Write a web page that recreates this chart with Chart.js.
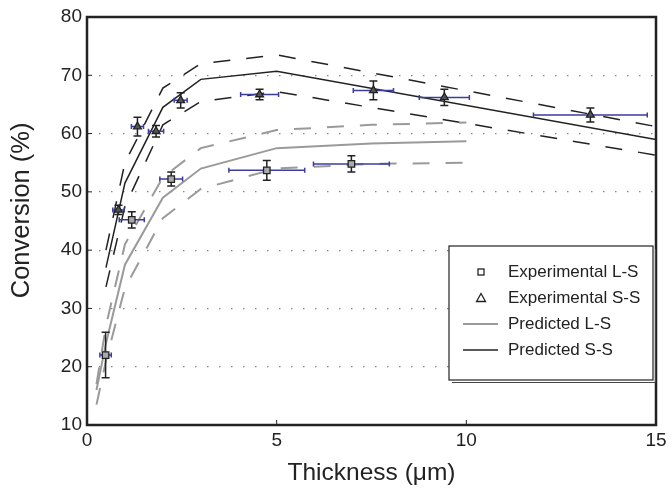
<!DOCTYPE html>
<html>
<head>
<meta charset="utf-8">
<script src="https://cdn.jsdelivr.net/npm/chart.js@4"></script>
<style>
  body{margin:0;background:#fff;}
  #c{display:block;}
</style>
</head>
<body>
<canvas id="c" width="672" height="489"></canvas>
<script>
// ---------- DATA ----------
// experimental points
const lsX    = [0.49, 1.18, 2.22, 4.74, 6.97];
const lsY    = [22.0, 45.2, 52.2, 53.7, 54.8];
const lsXErr = [0.15, 0.33, 0.30, 1.00, 1.00];
const lsYErr = [3.9, 1.4, 1.2, 1.7, 1.4];

const ssX    = [0.83, 1.33, 1.82, 2.47, 4.55, 7.55, 9.42, 13.27];
const ssY    = [46.9, 61.2, 60.4, 65.7, 66.7, 67.4, 66.2, 63.2];
const ssXErr = [0.15, 0.16, 0.20, 0.17, 0.50, 0.53, 0.66, 1.50];
const ssYErr = [0.8, 1.6, 1.0, 1.3, 0.9, 1.6, 1.4, 1.2];

// model curves
const lsModelX     = [0.25, 0.5, 1, 2, 3, 5, 7.5, 10];
const lsModel      = [16.0, 24.0, 37.5, 49.0, 54.0, 57.5, 58.3, 58.7];
const lsModelUpper = [17.0, 27.0, 41.0, 52.5, 57.5, 60.6, 61.5, 61.9];
const lsModelLower = [13.5, 21.0, 33.5, 45.5, 50.5, 54.0, 54.8, 55.0];

const ssModelX     = [0.5, 1, 2, 3, 5, 15];
const ssModel      = [37.0, 51.5, 64.5, 69.3, 70.7, 59.0];
const ssModelUpper = [40.0, 55.0, 67.8, 72.0, 73.5, 61.2];
const ssModelLower = [33.7, 47.5, 61.5, 65.5, 67.2, 56.3];

const xTicks = [0, 5, 10, 15];
const yTicks = [10, 20, 30, 40, 50, 60, 70, 80];

const legendLabels = ['Experimental L-S', 'Experimental S-S', 'Predicted L-S', 'Predicted S-S'];

// ---------- helpers ----------
const pts = (xs, ys) => xs.map((x, i) => ({x: x, y: ys[i]}));
const FONT = "'Liberation Sans', Arial, Helvetica, sans-serif";
const INK = '#222';
const GREY = '#9a9a9a';
const BLUE = '#3c3ca0';

function line(label, xs, ys, color, width, dash){
  return {
    type: 'line', label: label, data: pts(xs, ys),
    borderColor: color, borderWidth: width, borderDash: dash || [],
    pointRadius: 0, fill: false, tension: 0
  };
}

// ---------- PLUGINS ----------
const errorBars = {
  id: 'errorBars',
  beforeDatasetDraw(chart, args){
    const ds = chart.data.datasets[args.index];
    if(!ds.xErr) return;
    const xs = chart.scales.x, ys = chart.scales.y, ctx = chart.ctx;
    ctx.save();
    ds.data.forEach((p, i) => {
      const px = xs.getPixelForValue(p.x), py = ys.getPixelForValue(p.y);
      // horizontal (blue)
      const x1 = xs.getPixelForValue(p.x - ds.xErr[i]), x2 = xs.getPixelForValue(p.x + ds.xErr[i]);
      ctx.strokeStyle = BLUE; ctx.lineWidth = 1.5;
      ctx.beginPath();
      ctx.moveTo(x1, py); ctx.lineTo(x2, py);
      ctx.moveTo(x1, py - 2.5); ctx.lineTo(x1, py + 2.5);
      ctx.moveTo(x2, py - 2.5); ctx.lineTo(x2, py + 2.5);
      ctx.stroke();
      // vertical (black)
      const y1 = ys.getPixelForValue(p.y - ds.yErr[i]), y2 = ys.getPixelForValue(p.y + ds.yErr[i]);
      ctx.strokeStyle = INK; ctx.lineWidth = 1.5;
      ctx.beginPath();
      ctx.moveTo(px, y1); ctx.lineTo(px, y2);
      ctx.moveTo(px - 4, y1); ctx.lineTo(px + 4, y1);
      ctx.moveTo(px - 4, y2); ctx.lineTo(px + 4, y2);
      ctx.stroke();
    });
    ctx.restore();
  }
};

const frame = {
  id: 'frame',
  afterDraw(chart){
    const {ctx, chartArea: a, scales} = chart;
    ctx.save();
    // inward ticks
    ctx.strokeStyle = INK; ctx.lineWidth = 1;
    ctx.beginPath();
    yTicks.forEach(v => {
      const py = scales.y.getPixelForValue(v);
      ctx.moveTo(a.left, py); ctx.lineTo(a.left + 5, py);
    });
    xTicks.forEach(v => {
      const px = scales.x.getPixelForValue(v);
      ctx.moveTo(px, a.bottom); ctx.lineTo(px, a.bottom - 5);
    });
    ctx.stroke();
    ctx.strokeStyle = INK; ctx.lineWidth = 2.5;
    ctx.strokeRect(a.left, a.top, a.right - a.left, a.bottom - a.top);

    // legend box with thin offset shadow
    const lx = 449, ly = 246, lw = 204, lh = 134;
    ctx.strokeStyle = '#444'; ctx.lineWidth = 1;
    ctx.beginPath();
    ctx.moveTo(lx + 3, ly + lh + 2.5); ctx.lineTo(lx + lw + 2.5, ly + lh + 2.5); ctx.lineTo(lx + lw + 2.5, ly + 3);
    ctx.stroke();
    ctx.fillStyle = '#fff';
    ctx.fillRect(lx, ly, lw, lh);
    ctx.strokeStyle = INK; ctx.lineWidth = 1.2;
    ctx.strokeRect(lx, ly, lw, lh);

    ctx.font = '17px ' + FONT;
    ctx.fillStyle = INK;
    ctx.textBaseline = 'middle';
    legendLabels.forEach((t, i) => {
      const ry = 272 + i * 26;
      const mx = 481;
      ctx.lineWidth = 1.3;
      if(i === 0){
        ctx.strokeStyle = INK;
        ctx.strokeRect(mx - 3, ry - 3, 6, 6);
      } else if(i === 1){
        ctx.strokeStyle = INK;
        ctx.beginPath();
        ctx.moveTo(mx, ry - 4.5); ctx.lineTo(mx + 4.5, ry + 3.5); ctx.lineTo(mx - 4.5, ry + 3.5);
        ctx.closePath(); ctx.stroke();
      } else {
        ctx.strokeStyle = i === 2 ? GREY : INK;
        ctx.lineWidth = i === 2 ? 1.8 : 1.5;
        ctx.beginPath(); ctx.moveTo(463, ry); ctx.lineTo(498, ry); ctx.stroke();
      }
      ctx.fillText(t, 508, ry);
    });
    ctx.restore();
  }
};

// ---------- CHART ----------
const chart = new Chart(document.getElementById('c'), {
  data: {
    datasets: [
      {
        type: 'scatter', label: legendLabels[0], data: pts(lsX, lsY),
        xErr: lsXErr, yErr: lsYErr,
        pointStyle: 'rect', pointRadius: 4.6, pointBorderWidth: 1.3,
        borderColor: INK, backgroundColor: '#aaa'
      },
      {
        type: 'scatter', label: legendLabels[1], data: pts(ssX, ssY),
        xErr: ssXErr, yErr: ssYErr,
        pointStyle: 'triangle', pointRadius: 4.5, pointBorderWidth: 1.3,
        borderColor: INK, backgroundColor: '#555'
      },
      line(legendLabels[2], lsModelX, lsModel, GREY, 2),
      line('L-S upper', lsModelX, lsModelUpper, GREY, 2, [17, 16]),
      line('L-S lower', lsModelX, lsModelLower, GREY, 2, [17, 16]),
      line(legendLabels[3], ssModelX, ssModel, INK, 1.5),
      line('S-S upper', ssModelX, ssModelUpper, INK, 1.5, [17, 16]),
      line('S-S lower', ssModelX, ssModelLower, INK, 1.5, [17, 16])
    ]
  },
  options: {
    responsive: false,
    animation: false,
    events: [],
    layout: {padding: {top: 17, right: 16, left: 0, bottom: 0}},
    plugins: {legend: {display: false}, tooltip: {enabled: false}},
    scales: {
      x: {
        type: 'linear', min: 0, max: 15,
        afterFit: s => { s.height = 64; },
        afterBuildTicks: s => { s.ticks = xTicks.map(v => ({value: v})); },
        ticks: {color: INK, padding: 4, font: {family: FONT, size: 19}},
        grid: {display: false, drawTicks: false},
        border: {display: false},
        title: {display: true, text: 'Thickness (μm)', color: INK,
                font: {family: FONT, size: 24.5}, padding: {top: 0, bottom: 1}}
      },
      y: {
        type: 'linear', min: 10, max: 80,
        afterFit: s => { s.width = 87; },
        afterBuildTicks: s => { s.ticks = yTicks.map(v => ({value: v})); },
        ticks: {color: INK, padding: 5, font: {family: FONT, size: 19}},
        grid: {
          drawTicks: false,
          lineWidth: 1.2,
          color: c => (c.tick && (c.tick.value === 10 || c.tick.value === 80)) ? 'rgba(0,0,0,0)' : '#888'
        },
        border: {display: false, dash: [1.5, 10.5]},
        title: {display: true, text: '   Conversion (%)', color: INK,
                font: {family: FONT, size: 25.5}, padding: {top: 7, bottom: 0}}
      }
    }
  },
  plugins: [errorBars, frame]
});
</script>
</body>
</html>
